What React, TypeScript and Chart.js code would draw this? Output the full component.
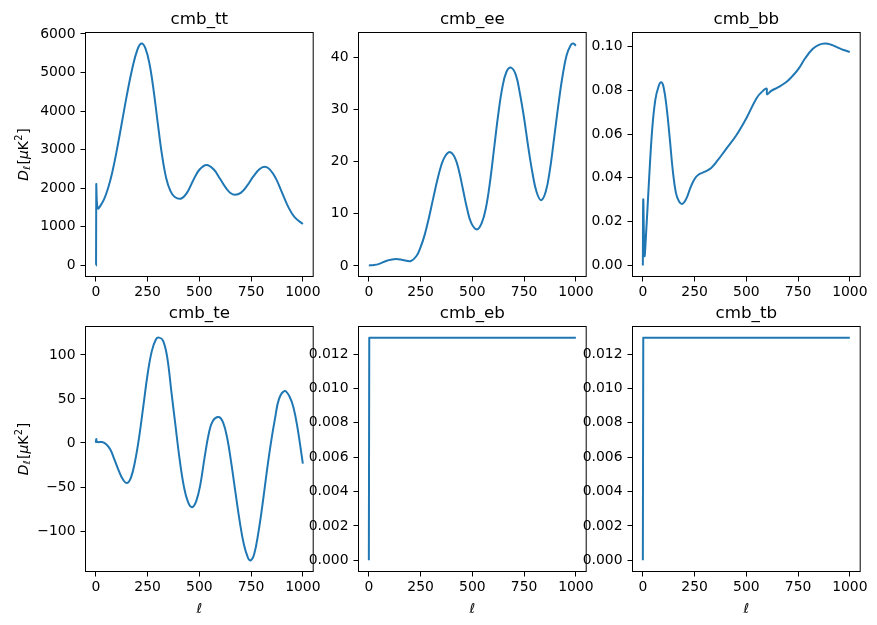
import React, { useEffect, useRef } from "react";
import { Chart, registerables } from "chart.js";

Chart.register(...registerables);

// ---------- data ----------
const X_TICKS = [0, 250, 500, 750, 1000];

const TT_ELL = [0, 1, 2, 5, 10, 20, 40, 60, 80, 100, 125, 150, 175, 200, 220, 240, 260, 280, 300, 320, 340, 360, 380, 410, 440, 470, 500, 535, 570, 600, 630, 650, 672, 700, 730, 760, 790, 815, 840, 870, 900, 930, 960, 1000];
const TT_DL = [0, 0, 2090, 1640, 1475, 1530, 1720, 2020, 2430, 2950, 3680, 4420, 5080, 5580, 5750, 5620, 5200, 4500, 3650, 2850, 2260, 1930, 1780, 1730, 1880, 2200, 2480, 2605, 2485, 2245, 1995, 1878, 1830, 1880, 2060, 2300, 2490, 2555, 2490, 2250, 1880, 1510, 1250, 1075];
const TT_TICKS = [0, 1000, 2000, 3000, 4000, 5000, 6000];

const EE_ELL = [0, 20, 50, 90, 130, 170, 203, 230, 250, 270, 290, 310, 330, 350, 370, 393, 415, 435, 455, 475, 495, 522, 545, 565, 585, 605, 625, 645, 665, 687, 710, 730, 750, 770, 790, 810, 832, 855, 875, 895, 915, 935, 955, 975, 988, 1000];
const EE_DL = [0.1, 0.15, 0.4, 1.05, 1.35, 1.1, 0.95, 1.9, 3.6, 6.0, 9.2, 12.8, 16.3, 19.3, 21.1, 21.8, 20.8, 18.3, 14.6, 10.9, 8.2, 7.0, 8.2, 11.0, 16.0, 22.5, 29.0, 34.2, 37.2, 38.0, 36.6, 33.0, 28.3, 22.8, 17.9, 14.2, 12.6, 14.3, 18.5, 24.5, 30.7, 36.2, 40.3, 42.3, 42.6, 42.2];
const EE_TICKS = [0, 10, 20, 30, 40];

const BB_ELL = [0, 2, 8, 15, 30, 45, 60, 75, 88, 100, 115, 130, 145, 160, 175, 191, 210, 230, 250, 270, 300, 330, 360, 400, 450, 500, 550, 580, 598, 600, 620, 650, 690, 720, 750, 785, 820, 850, 880, 910, 940, 970, 1000];
const BB_DL = [0, 0.0302, 0.0045, 0.0134, 0.0392, 0.062, 0.0755, 0.0815, 0.0836, 0.0815, 0.072, 0.058, 0.043, 0.033, 0.0292, 0.0281, 0.0305, 0.0355, 0.0395, 0.0415, 0.0428, 0.0445, 0.0478, 0.0529, 0.0592, 0.0672, 0.0765, 0.0797, 0.0808, 0.0781, 0.0797, 0.0812, 0.0835, 0.0862, 0.0895, 0.0947, 0.0988, 0.1007, 0.1013, 0.1008, 0.0996, 0.0984, 0.0975];
const BB_TICKS = [0, 0.02, 0.04, 0.06, 0.08, 0.1];

const TE_ELL = [0, 2, 6, 30, 50, 70, 90, 110, 130, 150, 170, 190, 210, 230, 250, 270, 290, 306, 325, 345, 365, 385, 405, 425, 445, 465, 485, 505, 525, 545, 565, 594, 615, 635, 655, 675, 695, 715, 735, 748, 765, 785, 805, 825, 845, 865, 885, 912, 935, 955, 975, 1000];
const TE_DL = [0, 4.5, 1.2, 1.0, -1.5, -7.5, -19, -31, -41, -45.5, -39, -20, 8, 43, 78, 104, 117.5, 119.6, 116, 97, 58, 19, -19, -49, -67, -73, -66, -47, -17, 10, 25, 29.5, 23, 5, -24, -57, -89, -115, -130.5, -133.3, -126, -102, -70, -34, -1, 27, 50, 59, 53, 40, 16, -23.5];
const TE_TICKS = [-100, -50, 0, 50, 100];

const EB_ELL = [0, 2, 1000];
const EB_DL = [0, 0.01296, 0.01296];
const EB_TICKS = [0, 0.002, 0.004, 0.006, 0.008, 0.01, 0.012];

const TB_ELL = [0, 2, 1000];
const TB_DL = [0, 0.01296, 0.01296];
const TB_TICKS = [0, 0.002, 0.004, 0.006, 0.008, 0.01, 0.012];

const TITLES = ["cmb_tt", "cmb_ee", "cmb_bb", "cmb_te", "cmb_eb", "cmb_tb"];

// ---------- layout ----------
const COL_L = [85.5, 358.5, 632.5];
const BOX_W = 228;
const ROW_T = [32.5, 326.5];
const ROW_H = [244, 245];
const CANVAS_W = 324;
const PAD_BOTTOM = 52.5;
const FONT = '"DejaVu Sans", "Liberation Sans", sans-serif';
const TICK_SIZE = 13.9;
const TITLE_SIZE = 16.7;
const LINE_COLOR = "#1f77b4";

type PanelDef = {
  title: string;
  ell: number[];
  dl: number[];
  yTicks: number[];
  dec: number;
  col: number;
  row: number;
  smooth: number;
};

const PANELS: PanelDef[] = [
  { title: TITLES[0], ell: TT_ELL, dl: TT_DL, yTicks: TT_TICKS, dec: 0, col: 0, row: 0, smooth: 0.4 },
  { title: TITLES[1], ell: EE_ELL, dl: EE_DL, yTicks: EE_TICKS, dec: 0, col: 1, row: 0, smooth: 0.4 },
  { title: TITLES[2], ell: BB_ELL, dl: BB_DL, yTicks: BB_TICKS, dec: 2, col: 2, row: 0, smooth: 0.4 },
  { title: TITLES[3], ell: TE_ELL, dl: TE_DL, yTicks: TE_TICKS, dec: 0, col: 0, row: 1, smooth: 0.4 },
  { title: TITLES[4], ell: EB_ELL, dl: EB_DL, yTicks: EB_TICKS, dec: 3, col: 1, row: 1, smooth: 0 },
  { title: TITLES[5], ell: TB_ELL, dl: TB_DL, yTicks: TB_TICKS, dec: 3, col: 2, row: 1, smooth: 0 },
];

function fmt(v: number, dec: number): string {
  const s = Math.abs(v).toFixed(dec);
  return v < -1e-12 ? "\u2212" + s : s;
}

function drawYLabel(ctx: CanvasRenderingContext2D, bx: number, cy: number) {
  const big = TICK_SIZE;
  const small = TICK_SIZE * 0.7;
  const segs = [
    { t: "D", f: `italic ${big}px ${FONT}`, dy: 0, gap: 0 },
    { t: "\u2113", f: `italic ${small}px ${FONT}`, dy: 2.6, gap: 1.5 },
    { t: "[", f: `${big}px ${FONT}`, dy: 0, gap: 0 },
    { t: "\u03bc", f: `italic ${big}px ${FONT}`, dy: 0, gap: 0 },
    { t: "K", f: `${big}px ${FONT}`, dy: 0, gap: 0.5 },
    { t: "2", f: `${small}px ${FONT}`, dy: -5.8, gap: 0.8 },
    { t: "]", f: `${big}px ${FONT}`, dy: 0, gap: 0 },
  ];
  let total = 0;
  const widths: number[] = [];
  for (const s of segs) {
    ctx.font = s.f;
    const w = ctx.measureText(s.t).width;
    widths.push(w);
    total += w + s.gap;
  }
  ctx.save();
  ctx.translate(bx, cy);
  ctx.rotate(-Math.PI / 2);
  ctx.fillStyle = "#000";
  ctx.textBaseline = "alphabetic";
  ctx.textAlign = "left";
  let x = -total / 2;
  segs.forEach((s, i) => {
    ctx.font = s.f;
    ctx.fillText(s.t, x, s.dy);
    x += widths[i] + s.gap;
  });
  ctx.restore();
}

function Panel({ p }: { p: PanelDef }) {
  const ref = useRef<HTMLCanvasElement>(null);
  const boxL = COL_L[p.col];
  const boxT = ROW_T[p.row];
  const boxH = ROW_H[p.row];
  const cLeft = Math.floor(boxL) - 85;
  const cTop = Math.floor(boxT) - 32;
  const padLeft = boxL - cLeft;
  const padTop = boxT - cTop;
  const padRight = CANVAS_W - padLeft - BOX_W;
  const H = Math.round(padTop + boxH + PAD_BOTTOM);
  const padBottom = H - padTop - boxH;

  useEffect(() => {
    const canvas = ref.current;
    if (!canvas) return;
    const xmin0 = Math.min(...p.ell);
    const xmax0 = Math.max(...p.ell);
    const ymin0 = Math.min(...p.dl);
    const ymax0 = Math.max(...p.dl);
    const xm = (xmax0 - xmin0) * 0.05;
    const ym = (ymax0 - ymin0) * 0.05;

    const framePlugin = {
      id: "frame" + p.title,
      afterDatasetsDraw(chart: any) {
        const ctx: CanvasRenderingContext2D = chart.ctx;
        const ca = chart.chartArea;
        ctx.save();
        ctx.strokeStyle = "#000";
        ctx.lineWidth = 1;
        ctx.strokeRect(ca.left, ca.top, ca.right - ca.left, ca.bottom - ca.top);
        ctx.fillStyle = "#000";
        ctx.font = `${TITLE_SIZE}px ${FONT}`;
        ctx.textAlign = "center";
        ctx.textBaseline = "alphabetic";
        ctx.fillText(p.title, (ca.left + ca.right) / 2, ca.top - 9);
        if (p.row === 1) {
          ctx.font = `italic ${TICK_SIZE}px ${FONT}`;
          ctx.fillText("\u2113", (ca.left + ca.right) / 2, ca.bottom + 41.5);
        }
        ctx.restore();
        if (p.col === 0) {
          drawYLabel(ctx, 27.5, (ca.top + ca.bottom) / 2);
        }
      },
    };

    const chart = new Chart(canvas, {
      type: "line",
      data: {
        datasets: [
          {
            data: p.ell.map((x, i) => ({ x, y: p.dl[i] })),
            borderColor: LINE_COLOR,
            backgroundColor: LINE_COLOR,
            borderWidth: 2,
            pointRadius: 0,
            fill: false,
            tension: p.smooth,
            cubicInterpolationMode: "default",
            borderJoinStyle: "round",
          },
        ],
      },
      options: {
        animation: false,
        responsive: false,
        maintainAspectRatio: false,
        devicePixelRatio: 1,
        layout: { padding: { top: padTop, right: padRight, left: 0, bottom: 0 } },
        plugins: {
          legend: { display: false },
          tooltip: { enabled: false },
          title: { display: false },
        },
        scales: {
          x: {
            type: "linear",
            min: xmin0 - xm,
            max: xmax0 + xm,
            afterFit: (s: any) => {
              s.height = padBottom;
            },
            afterBuildTicks: (s: any) => {
              s.ticks = X_TICKS.map((v) => ({ value: v }));
            },
            grid: {
              drawOnChartArea: false,
              drawTicks: true,
              tickLength: 5,
              color: "#000",
              lineWidth: 1,
            },
            border: { display: false },
            ticks: {
              color: "#000",
              font: { family: FONT, size: TICK_SIZE },
              padding: 3,
              maxRotation: 0,
              minRotation: 0,
              autoSkip: false,
              callback: (v: any) => fmt(Number(v), 0),
            },
          },
          y: {
            type: "linear",
            position: "left",
            min: ymin0 - ym,
            max: ymax0 + ym,
            afterFit: (s: any) => {
              s.width = padLeft;
            },
            afterBuildTicks: (s: any) => {
              s.ticks = p.yTicks.map((v) => ({ value: v }));
            },
            grid: {
              drawOnChartArea: false,
              drawTicks: true,
              tickLength: 5,
              color: "#000",
              lineWidth: 1,
            },
            border: { display: false },
            ticks: {
              color: "#000",
              font: { family: FONT, size: TICK_SIZE },
              padding: 5,
              autoSkip: false,
              callback: (v: any) => fmt(Number(v), p.dec),
            },
          },
        },
      } as any,
      plugins: [framePlugin],
    });
    return () => chart.destroy();
  }, []);

  return (
    <canvas
      ref={ref}
      width={CANVAS_W}
      height={H}
      style={{ position: "absolute", left: cLeft, top: cTop, width: CANVAS_W, height: H }}
    />
  );
}

export default function App() {
  return (
    <div
      style={{
        position: "fixed",
        left: 0,
        top: 0,
        width: 877,
        height: 625,
        background: "#fff",
        overflow: "hidden",
      }}
    >
      {PANELS.map((p) => (
        <Panel key={p.title} p={p} />
      ))}
    </div>
  );
}
